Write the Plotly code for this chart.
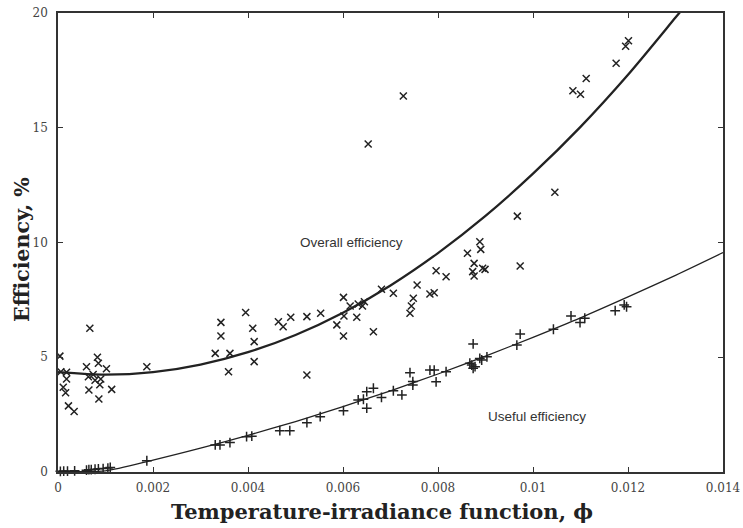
import plotly.graph_objects as go

# Overall efficiency observations (phi, %)
overall_phi = [0.00004, 0.00006, 0.00018, 0.00018, 0.00011, 0.00016, 0.00022, 0.00034,
               0.00067, 0.00060, 0.00083, 0.00085, 0.00102, 0.00064, 0.00074, 0.00078,
               0.00090, 0.00088, 0.00065, 0.00113, 0.00086, 0.00187,
               0.00331, 0.00343, 0.00343, 0.00362, 0.00359, 0.00395, 0.00410, 0.00413,
               0.00413, 0.00464, 0.00474, 0.00490, 0.00524, 0.00524, 0.00553, 0.00587,
               0.00601, 0.00602, 0.00601, 0.00615, 0.00629, 0.00632, 0.00641, 0.00645,
               0.00664, 0.00681, 0.00706, 0.00741, 0.00744, 0.00748, 0.00756, 0.00783,
               0.00792, 0.00796, 0.00817, 0.00862, 0.00876, 0.00873, 0.00876, 0.00888,
               0.00890, 0.00894, 0.00899, 0.00973, 0.00967, 0.01046, 0.01084, 0.01100,
               0.01112, 0.01175, 0.01195, 0.01201, 0.00727, 0.00653]
overall_eff = [5.05, 4.37, 4.35, 4.05, 3.69, 3.45, 2.88, 2.64,
               6.26, 4.59, 5.00, 4.74, 4.50, 4.15, 4.25, 4.00,
               4.05, 3.80, 3.57, 3.60, 3.18, 4.59,
               5.17, 6.52, 5.93, 5.17, 4.37, 6.95, 6.26, 5.68,
               4.81, 6.55, 6.33, 6.74, 6.77, 4.23, 6.92, 6.41,
               7.61, 6.80, 5.93, 7.23, 6.74, 7.32, 7.23, 7.42,
               6.11, 7.96, 7.79, 6.92, 7.23, 7.57, 8.15, 7.76,
               7.81, 8.77, 8.51, 9.53, 9.09, 8.73, 8.54, 10.03,
               9.70, 8.88, 8.83, 8.98, 11.15, 12.19, 16.61, 16.46,
               17.15, 17.81, 18.55, 18.79, 16.38, 14.29]

# Useful efficiency observations (phi, %)
useful_phi = [0.00005, 0.00012, 0.00020, 0.00035, 0.00060, 0.00065, 0.00070, 0.00078,
              0.00085, 0.00095, 0.00105, 0.00110, 0.00187,
              0.00331, 0.00341, 0.00362, 0.00397, 0.00408, 0.00467, 0.00488, 0.00524,
              0.00552, 0.00601, 0.00632, 0.00643, 0.00650, 0.00650, 0.00664, 0.00681,
              0.00706, 0.00724, 0.00741, 0.00747, 0.00747, 0.00783, 0.00792, 0.00796,
              0.00817, 0.00874, 0.00867, 0.00878, 0.00892, 0.00903, 0.00871, 0.00874,
              0.00888, 0.00973, 0.00966, 0.01043, 0.01080, 0.01099, 0.01109, 0.01173,
              0.01192, 0.01197]
useful_eff = [0.03, 0.04, 0.04, 0.05, 0.08, 0.10, 0.10, 0.12,
              0.14, 0.15, 0.17, 0.20, 0.49,
              1.18, 1.18, 1.28, 1.54, 1.56, 1.80, 1.80, 2.15,
              2.41, 2.67, 3.14, 3.17, 2.78, 3.50, 3.65, 3.25,
              3.54, 3.36, 4.33, 3.79, 3.94, 4.44, 4.44, 3.93,
              4.37, 5.58, 4.74, 4.59, 4.88, 5.02, 4.66, 4.52,
              4.95, 6.01, 5.53, 6.22, 6.80, 6.51, 6.70, 7.03,
              7.28, 7.20]

# Fitted trend curves
overall_fit_phi = [0.0, 0.001, 0.002, 0.003, 0.004, 0.005, 0.006, 0.007, 0.008,
                   0.009, 0.010, 0.011, 0.012, 0.013, 0.0132]
overall_fit_eff = [4.35, 4.24, 4.35, 4.68, 5.22, 5.97, 6.94, 8.13, 9.54,
                   11.16, 13.00, 15.04, 17.31, 19.80, 20.30]
useful_fit_phi = [0.0, 0.0005, 0.001, 0.002, 0.003, 0.004, 0.005, 0.006, 0.007,
                  0.008, 0.009, 0.010, 0.011, 0.012, 0.013, 0.014]
useful_fit_eff = [0.02, 0.02, 0.05, 0.52, 1.04, 1.60, 2.20, 2.85, 3.54,
                  4.27, 5.05, 5.87, 6.72, 7.63, 8.57, 9.56]

x_ticks = [0, 0.002, 0.004, 0.006, 0.008, 0.010, 0.012, 0.014]
x_tick_text = ["0", "0.002", "0.004", "0.006", "0.008", "0.01", "0.012", "0.014"]
y_ticks = [0, 5, 10, 15, 20]

ink = "#222222"

fig = go.Figure()
fig.add_trace(go.Scatter(
    x=overall_fit_phi, y=overall_fit_eff, mode="lines",
    line=dict(color=ink, width=2.3, shape="spline", smoothing=0.8),
    hoverinfo="skip"))
fig.add_trace(go.Scatter(
    x=useful_fit_phi, y=useful_fit_eff, mode="lines",
    line=dict(color=ink, width=1.3, shape="spline", smoothing=0.8),
    hoverinfo="skip"))
fig.add_trace(go.Scatter(
    x=overall_phi, y=overall_eff, mode="markers",
    marker=dict(symbol="x-thin", size=7, line=dict(color=ink, width=1.5)),
    cliponaxis=False))
fig.add_trace(go.Scatter(
    x=useful_phi, y=useful_eff, mode="markers",
    marker=dict(symbol="cross-thin", size=7, line=dict(color=ink, width=1.5)),
    cliponaxis=False))

axis_common = dict(
    showgrid=False, zeroline=False, showline=True, linecolor="#333333", linewidth=1.6,
    mirror="ticks", ticks="inside", ticklen=5, tickwidth=1.2, tickcolor="#333333",
    tickfont=dict(family="DejaVu Serif", size=12, color="#444444"),
    automargin=False,
)

fig.update_layout(
    width=743, height=528,
    margin=dict(l=58, r=20, t=13, b=56),
    paper_bgcolor="white", plot_bgcolor="white",
    showlegend=False,
    xaxis=dict(range=[0, 0.014], tickvals=x_ticks, ticktext=x_tick_text,
               ticklabelstandoff=4, **axis_common),
    yaxis=dict(range=[0, 20], tickvals=y_ticks, ticklabelstandoff=6, **axis_common),
    annotations=[
        dict(x=0.00617, y=10.0, xref="x", yref="y", text="Overall efficiency",
             showarrow=False, font=dict(family="Liberation Sans", size=13.5, color="#333333")),
        dict(x=0.01008, y=2.41, xref="x", yref="y", text="Useful efficiency",
             showarrow=False, font=dict(family="Liberation Sans", size=13.5, color="#333333")),
        dict(x=0.487, y=-0.087, xref="paper", yref="paper", xanchor="center", yanchor="middle",
             text="<b>Temperature-irradiance function, \u03d5</b>", showarrow=False,
             font=dict(family="DejaVu Serif", size=21, color="#222222")),
        dict(x=-0.054, y=0.484, xref="paper", yref="paper", xanchor="center", yanchor="middle",
             textangle=-90, text="<b>Efficiency, %</b>", showarrow=False,
             font=dict(family="DejaVu Serif", size=20.5, color="#222222")),
    ],
)

fig.write_html("out.html")
